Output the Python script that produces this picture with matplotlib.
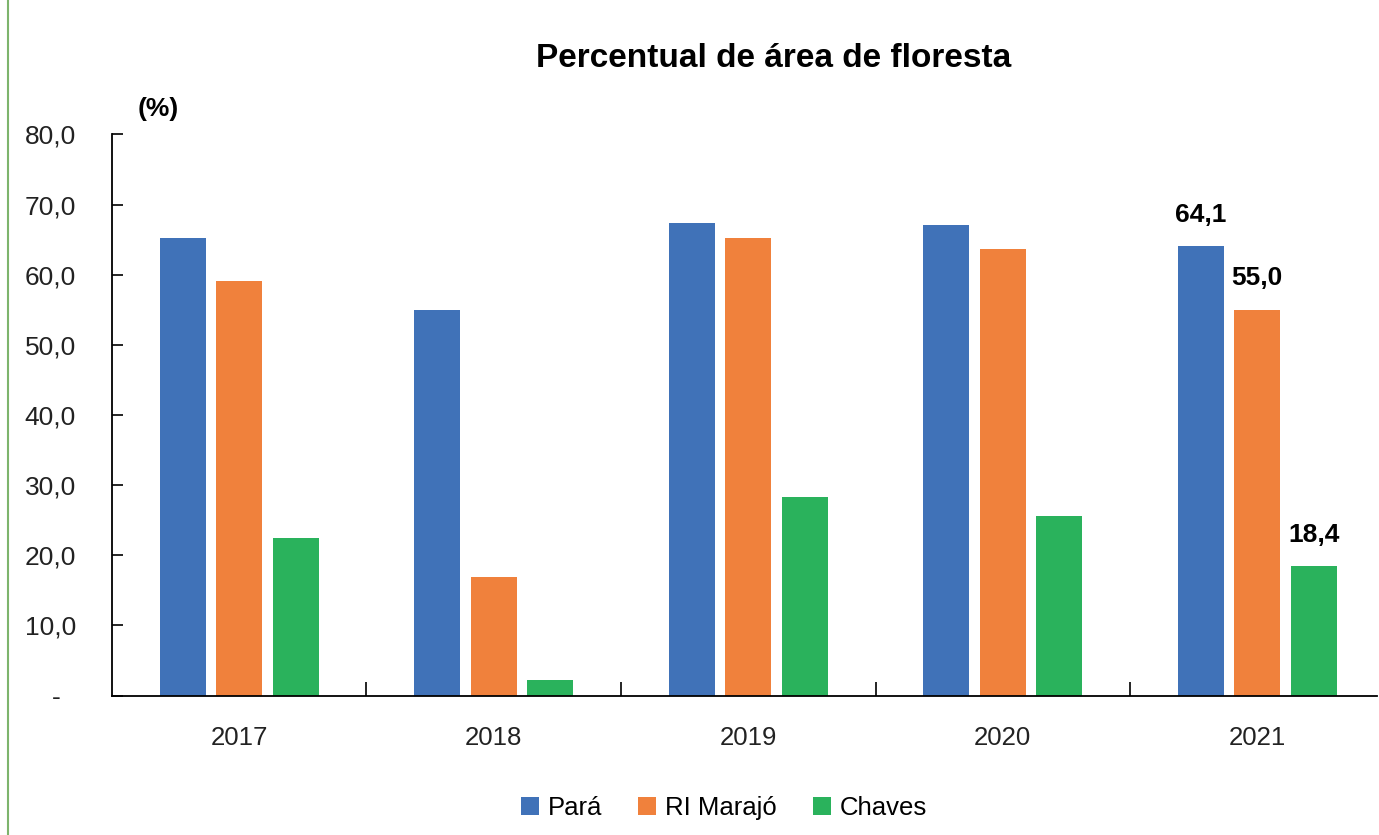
import matplotlib
matplotlib.use("Agg")
import matplotlib.pyplot as plt
from matplotlib.lines import Line2D
from matplotlib.patches import Patch
import numpy as np

years = ["2017", "2018", "2019", "2020", "2021"]
series_names = ["Pará", "RI Marajó", "Chaves"]
para = [65.3, 54.9, 67.4, 67.1, 64.1]
marajo = [59.1, 16.9, 65.2, 63.6, 55.0]
chaves = [22.4, 2.2, 28.3, 25.6, 18.4]
colors = ["#4072B8", "#F0813C", "#2AB25C"]
y_ticks = [0, 10, 20, 30, 40, 50, 60, 70, 80]
y_tick_labels = ["-  ", "10,0", "20,0", "30,0", "40,0", "50,0", "60,0", "70,0", "80,0"]

plt.rcParams['font.family'] = ['Liberation Sans', 'DejaVu Sans']

fig = plt.figure(figsize=(13.79, 8.35), dpi=100)
ax = fig.add_axes([0.0812, 0.167, 0.9173, 0.672])

x = np.arange(len(years))
offsets = [-0.222, 0.0, 0.222]
width = 0.18
all_series = [para, marajo, chaves]
for vals, off, col, name in zip(all_series, offsets, colors, series_names):
    ax.bar(x + off, vals, width=width, color=col, label=name)

# data labels for 2021
i = len(years) - 1
for vals, off in zip(all_series, offsets):
    ax.annotate(f"{vals[i]:.1f}".replace(".", ","), (x[i] + off, vals[i]),
                xytext=(0, 14), textcoords="offset points", ha="center", va="bottom",
                fontsize=19, fontweight="bold")

ax.set_xlim(-0.5, 4.47)
ax.set_ylim(0, 80)
ax.set_yticks(y_ticks)
ax.set_yticklabels(y_tick_labels, fontsize=19, color="#222222")
ax.set_xticks(x)
ax.set_xticklabels(years, fontsize=18.5, color="#222222")
ax.tick_params(axis="x", length=0, pad=22)
ax.set_xticks(np.arange(0.5, len(years) - 0.5, 1.0), minor=True)
ax.tick_params(axis="x", which="minor", direction="in", length=10, width=1.2)
ax.tick_params(axis="y", direction="in", length=8, width=1.2, pad=26)
ax.spines["top"].set_visible(False)
ax.spines["right"].set_visible(False)
ax.spines["left"].set_linewidth(1.3)
ax.spines["bottom"].set_linewidth(1.3)

fig.text(0.561, 0.930, "Percentual de área de floresta", ha="center", va="center",
         fontsize=24, fontweight="bold")
fig.text(0.1145, 0.870, "(%)", ha="center", va="center", fontsize=19, fontweight="bold")

handles = [Patch(facecolor=c, edgecolor="none") for c in colors]
fig.legend(handles, series_names, loc="center", bbox_to_anchor=(0.525, 0.032), ncol=3,
           frameon=False, fontsize=18.5, handlelength=0.7, handleheight=0.7,
           handletextpad=0.35, columnspacing=1.4)

fig.add_artist(Line2D([0.006, 0.006], [0.0, 1.0], transform=fig.transFigure,
                      color="#7DB46C", linewidth=1.5))

fig.savefig("out.png", dpi=100)
